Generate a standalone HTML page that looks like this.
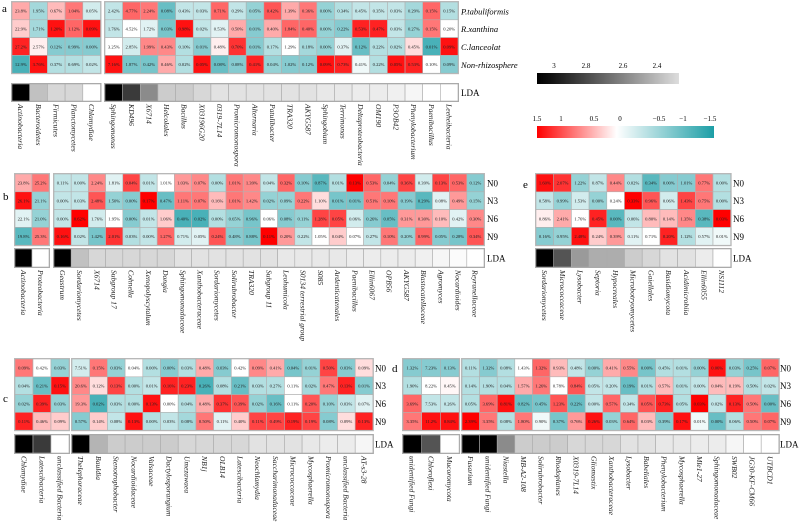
<!DOCTYPE html>
<html><head><meta charset="utf-8"><style>
body{margin:0;background:#fff;}
svg{display:block;font-family:"Liberation Serif",serif;}
</style></head><body>
<svg id="fig" width="800" height="528" viewBox="0 0 800 528"></svg>
<script>
const rowsA=["P.tabuliformis","R.xanthina","C.lanceolat","Non-rhizosphere"];
const rowsN=["N0","N3","N6","N9"];
const colsA1=["Actinobacteria","Bacteroidetes","Firmicutes","Planctomycetes","Chlamydiae"];
const colsA2=["Sphingomonas","KD496","X6714","Helcolales","Bacillus","X03196G20","0319-7L14","Promicromonospora","Alternaria","Patulibacter","TRA320","AKYG587","Sphingobium","Terrimonas","Deltaproteobacteria","OM190","P3OB42","Phenylobacterium","Paenibacillus","Leeheibacteria"];
const zA=[[0.5,-0.6,0.4,0.8,-0.3,-0.4,0.9,0.8,-1.0,-0.4,-0.4,0.9,-0.4,-0.7,1.0,0.5,0.8,-0.7,-0.5,-0.4,-0.4,-0.4,-0.6,0.9,-0.5],
[0.3,-0.6,1.4,0.9,1.4,-0.4,0,-0.2,-0.9,1.4,-0.4,-0.2,0.5,-0.8,0.5,0.9,0.9,-0.7,-0.8,1.3,1.3,-0.4,-0.7,0.8,0],
[1.3,0.1,-0.8,-0.8,-0.8,0,-0.3,0.7,0.7,-0.5,-0.8,0.1,1.2,-0.8,-0.5,0,-0.6,-0.7,-0.2,-1.0,-0.5,-0.5,0.2,-1.2,1.4],
[-1.2,1.4,-0.5,-0.5,-0.4,1.4,-0.9,-0.9,0.5,-0.5,1.4,-1.0,-0.8,1.3,-0.7,-0.8,-0.8,1.4,1.3,-0.1,-0.5,1.4,1.3,0,-0.8]];
const tA=[["23.8%","1.95%","0.67%","1.04%","0.05%","2.42%","4.77%","2.24%","0.08%","0.43%","0.03%","0.71%","0.29%","0.05%","0.42%","1.39%","0.36%","0.00%","0.34%","0.45%","0.35%","0.03%","0.29%","0.15%","0.15%"],
["22.9%","1.71%","1.20%","1.12%","0.09%","1.76%","4.52%","1.72%","0.03%","0.98%","0.02%","0.53%","0.50%","0.01%","0.40%","1.84%","0.40%","0.00%","0.22%","0.53%","0.47%","0.03%","0.27%","0.15%","0.20%"],
["27.2%","2.57%","0.12%","0.99%","0.00%","3.25%","2.85%","1.99%","0.43%","0.10%","0.01%","0.48%","0.70%","0.01%","0.17%","1.29%","0.18%","0.00%","0.37%","0.12%","0.22%","0.02%","0.45%","0.01%","0.09%"],
["12.9%","3.76%","0.37%","0.69%","0.02%","7.16%","1.87%","0.42%","0.46%","0.02%","0.05%","0.08%","0.08%","0.41%","0.04%","1.02%","0.12%","0.09%","0.73%","0.41%","0.22%","0.05%","0.53%","0.10%","0.09%"]];
const ldaA=[3.1,2.6,2.5,2.5,2.3,3.1,3.0,2.8,2.55,2.55,2.5,2.45,2.45,2.45,2.45,2.45,2.45,2.42,2.42,2.4,2.4,2.38,2.35,2.3,2.3];

const colsB1=["Actinobacteria","Proteobacteria"];
const colsB2=["Geastrum","Sordariomycetes","X6714","Subgroup 17","Cohnella","Xenopolyscytalum","Dongia","Sphingomonadaceae","Xanthobacteraceae","Sordariomycetes","Solirubrobacter","TRA320","Subgroup 11","Leohumicola","S0134 terrestrial group","S085","Ardenticatenales","Paenibacillus","Ellin6067","OPB56","AKYG587","Blastocatellaceae","Agromyces","Nocardioides","Reyranellaceae"];
const zB=[[0.5,0.8,-0.4,-0.4,0.7,-0.2,1.1,-0.4,0,0.6,0.7,-0.5,0.8,0.7,-0.4,0.9,-0.8,-1.1,-0.5,1.5,0.9,-0.7,1.1,-0.3,1.1,0.9,-0.8],
[1.4,-0.7,-0.4,-0.4,1.0,-0.7,-0.8,1.5,-1.0,0.8,0.8,0.4,0.8,0.7,-0.7,-0.7,0.8,0.2,-0.9,-0.9,0.8,0.8,-0.8,-1.1,-0.2,0.6,-0.7],
[-0.2,-0.7,-0.4,1.5,-0.3,0,-0.8,-0.4,0.3,-1.2,-1.2,-0.5,-0.7,-0.9,0,-0.8,-0.7,1.1,1.1,-0.3,-0.8,-1.0,0.6,0.6,0.4,-0.2,0.7],
[-1.1,0.8,1.4,-0.4,-0.9,1.2,-0.5,-0.4,0.9,-0.3,-0.2,1.0,-0.8,-0.9,1.5,0.6,-0.4,0,0.3,0,-0.4,0.8,-0.7,0.9,-0.8,-0.9,1.0]];
const tB=[["23.8%","25.2%","0.11%","0.00%","2.24%","1.81%","0.04%","0.01%","1.01%","1.03%","0.07%","0.00%","1.01%","1.39%","0.04%","0.32%","0.10%","0.87%","0.01%","0.13%","0.53%","0.04%","0.36%","0.39%","0.13%","0.53%","0.12%"],
["26.1%","21.1%","0.00%","0.03%","2.48%","1.50%","0.00%","0.17%","0.47%","1.11%","0.07%","0.16%","1.01%","1.42%","0.02%","0.09%","0.22%","1.10%","0.01%","0.01%","0.51%","0.10%","0.19%","0.29%","0.08%","0.49%","0.15%"],
["22.1%","21.0%","0.00%","0.62%","1.76%","1.95%","0.00%","0.01%","1.06%","0.40%","0.02%","0.00%","0.65%","0.96%","0.06%","0.08%","0.11%","1.28%","0.05%","0.06%","0.26%","0.05%","0.31%","0.30%","0.10%","0.42%","0.30%"],
["19.8%","25.3%","0.16%","0.02%","1.42%","2.01%","0.03%","0.00%","1.27%","0.71%","0.05%","0.24%","0.48%","0.88%","0.11%","0.20%","0.22%","1.05%","0.04%","0.07%","0.27%","0.10%","0.20%","0.99%","0.05%","0.28%","0.34%"]];
const ldaB=[3.1,2.3,3.1,2.6,2.5,2.5,2.5,2.5,2.5,2.45,2.45,2.45,2.45,2.45,2.45,2.42,2.42,2.42,2.42,2.4,2.4,2.4,2.4,2.38,2.35,2.32,2.3];

const colsE=["Sordariomycetes","Micrococcaceae","Lysobacter","Septoria","Hypocreales","Microbotryomycetes","Gaiellales","Basidiomycota","Acidimicrobiia","Ellin6055","NS1112"];
const zE=[[1.4,1.2,-0.7,-0.4,0.7,-0.5,-1.1,-0.8,-0.8,0.8,-0.5],
[-0.4,-0.7,-0.3,-0.7,0,1.5,1.0,-0.3,1.1,0.8,-0.5],
[0.1,0.5,0,1.3,-1.1,-0.4,0.4,0.4,0.7,-1.1,1.5],
[-0.8,-0.7,1.4,0.3,0.6,-0.2,0,1.3,-0.5,-0.2,-0.1]];
const tE=[["1.60%","2.07%","1.22%","0.87%","0.44%","0.02%","0.34%","0.00%","1.01%","0.77%","0.00%"],
["0.58%","0.99%","1.53%","0.00%","0.24%","0.33%","0.96%","0.06%","1.43%","0.75%","0.00%"],
["0.86%","2.41%","1.76%","0.45%","0.00%","0.06%","0.80%","0.14%","1.35%","0.38%","0.03%"],
["0.16%","0.95%","2.48%","0.24%","0.39%","0.11%","0.71%","0.20%","1.12%","0.57%","0.01%"]];
const ldaE=[3.1,2.95,2.75,2.68,2.68,2.55,2.5,2.45,2.45,2.4,2.3];

const colsC1=["Chlamydiae","Latescibacteria","unclassified Bacteria"];
const colsC2=["Thelephoraceae","Bauldia","Stenotrophobacter","Nocardioidaceae","Valsaceae","Dactylosporangium","Umezawaea","NB1j","OLB14","Latescibacteria","Neochlamydia","Saccharimonadaceae","Micrococcaceae","Mycosphaerella","Promicromonospora","unclassified Bacteria","AT-s3-28"];
const zC=[[0.8,0,-0.7,-0.3,0.8,-0.7,0,-0.5,-0.8,-0.5,0.5,-0.8,0,0.7,0.5,-0.9,-0.7,1.1,-0.8,0.2],
[-0.5,-1.0,1.4,0.7,0.2,1.1,-0.5,-0.4,1.3,1.3,-1.2,-0.5,-1.0,-0.5,-0.5,0,-0.6,0.8,1.3,-0.8],
[-0.7,1.3,-0.7,0.6,-1.2,-0.5,-0.5,1.4,0,-0.5,0.5,1.2,1.0,-0.7,-1.0,0,1.0,-0.7,-0.4,-0.2],
[1.3,0.4,0.3,-0.8,0.3,-0.4,1.4,-0.5,-0.4,-0.6,0.8,-0.2,0.3,1.1,1.1,1.3,1.1,-0.8,0.2,1.3]];
const tC=[["0.09%","0.42%","0.03%","7.51%","0.15%","0.03%","0.04%","0.00%","0.00%","0.03%","0.48%","0.03%","0.42%","0.09%","0.41%","0.04%","0.01%","0.50%","0.03%","0.09%"],
["0.04%","0.21%","0.15%","20.6%","0.12%","0.13%","0.00%","0.01%","0.16%","0.23%","0.26%","0.08%","0.21%","0.03%","0.27%","0.11%","0.02%","0.47%","0.13%","0.01%"],
["0.02%","0.39%","0.03%","19.3%","0.02%","0.03%","0.00%","0.13%","0.00%","0.04%","0.48%","0.37%","0.39%","0.02%","0.16%","0.11%","0.20%","0.10%","0.03%","0.07%"],
["0.11%","0.46%","0.09%","0.57%","0.14%","0.08%","0.13%","0.00%","0.03%","0.08%","0.50%","0.11%","0.40%","0.11%","0.49%","0.19%","0.19%","0.08%","0.09%","0.13%"]];
const ldaC=[3.1,3.0,2.3,3.1,2.65,2.55,2.55,2.55,2.55,2.5,2.5,2.5,2.5,2.45,2.45,2.45,2.42,2.4,2.4,2.35];

const colsD1=["unidentified Fungi","Chloroflexi","Mucoromycota"];
const colsD2=["Fusarium","unidentified Fungi","Niastella","MB-A2-108","Solirubrobacter","Rhodoplanes","X0319-7L14","Gliomastix","Xanthobacteraceae","Lysobacter","Babeliales","Phenylobacterium","Mycosphaerella","Mle1-27","Sphingomonadaceae","SWB02","JG30-KF-CM66","UTBCD1"];
const zD=[[-0.8,-0.8,-0.8,-0.5,-0.8,-0.5,0,0.9,0.4,-0.4,-0.7,0.5,0.7,-0.9,-0.5,-0.5,-0.7,1.4,-0.7,-0.9,0.9],
[-0.5,0,0.05,-0.5,-0.5,-0.5,0.5,0.8,0,1.0,-0.4,-0.4,-1.0,-0.5,0.4,-0.5,-0.4,0.4,0.4,-0.5,-0.4],
[0.9,-0.4,-0.4,-0.5,0.9,1.4,-1.0,-0.9,1.0,-1.0,-0.4,0.9,-0.4,1.0,1.3,-0.5,1.5,-0.4,1.3,0.8,-1.0],
[0.8,1.4,1.4,1.5,0.8,-0.5,0.8,-0.1,-0.9,0.6,1.4,-0.7,0.9,0.4,-0.8,1.4,-0.1,-1.0,-0.5,0.8,0.9]];
const tD=[["1.32%","7.23%","0.13%","0.11%","1.32%","0.08%","1.43%","1.32%","0.93%","0.48%","0.00%","0.41%","0.55%","0.00%","0.45%","0.01%","0.00%","0.06%","0.03%","0.25%","0.07%"],
["1.90%","8.22%","0.45%","0.14%","1.90%","0.04%","1.57%","1.26%","0.78%","0.84%","0.05%","0.20%","0.19%","0.01%","0.57%","0.01%","0.00%","0.04%","0.19%","0.50%","0.02%"],
["3.69%","7.53%","0.26%","0.05%","3.69%","0.81%","0.82%","0.45%","1.23%","0.22%","0.00%","0.57%","0.34%","0.05%","0.73%","0.05%","0.03%","0.02%","0.13%","0.50%","0.00%"],
["3.35%","11.2%","0.84%","2.39%","3.35%","0.08%","1.80%","0.90%","0.37%","0.76%","0.26%","0.03%","0.64%","0.03%","0.39%","0.17%","0.01%","0.00%","0.06%","0.50%","0.07%"]];
const ldaD=[3.1,2.95,2.3,3.1,3.1,2.8,2.55,2.55,2.55,2.5,2.5,2.5,2.45,2.45,2.42,2.42,2.4,2.4,2.35,2.3,2.3];

const NS="http://www.w3.org/2000/svg";
const svg=document.getElementById('fig');
function el(tag,attrs,parent){const e=document.createElementNS(NS,tag);for(const k in attrs)e.setAttribute(k,attrs[k]);(parent||svg).appendChild(e);return e;}
function zColor(z){z=Math.max(-1.5,Math.min(1.5,z));
 if(z>=0){const t=z/1.5;const g=Math.round(255*(1-t));return `rgb(255,${g},${g})`;}
 const t=-z/1.5;const c=[255+(28-255)*t,255+(158-255)*t,255+(166-255)*t].map(Math.round);return `rgb(${c[0]},${c[1]},${c[2]})`;}
function ldaColor(v){let t=(3.05-v)/0.75;t=Math.max(0,Math.min(1,t));const g=Math.round(255*Math.pow(t,0.55));return `rgb(${g},${g},${g})`;}

function panel(p){
 const g=el('g',{});
 
 
 const pl=el('text',{x:p.lx,y:p.ly,'font-size':11},g);pl.textContent=p.id;
 
 
 let ci=0;
 p.groups.forEach(gr=>{
  const n=gr.cols.length;const w=gr.cw;
  el('rect',{x:gr.x0-1,y:p.top-1,width:n*w+2,height:4*p.rh+2,fill:'#bbb'},g);
  el('rect',{x:gr.x0-1,y:p.lda-1,width:n*w+2,height:p.ldah+2,fill:'#aaa'},g);
  for(let j=0;j<n;j++){
   const k=ci+j;const x=gr.x0+j*w;
   for(let r=0;r<4;r++){
    const c=el('rect',{x:x,y:p.top+r*p.rh,width:w,height:p.rh,fill:zColor(p.z[r][k]),stroke:'#b0b0b0','stroke-width':0.6},g);
    
    
    const t=el('text',{x:x+w/2,y:p.top+r*p.rh+p.rh/2+1.8,'font-size':4.6,'text-anchor':'middle',fill:'#222'},g);
    t.textContent=p.t[r][k];
   }
   const lr=el('rect',{x:x,y:p.lda,width:w,height:p.ldah,fill:ldaColor(p.ld[k]),stroke:'#aaa','stroke-width':0.6},g);
   
   
   const lt=el('text',{x:0,y:0,'font-size':7.6,'font-style':'italic',fill:'#222',transform:`translate(${x+w/2-2.7},${p.lda+p.ldah+3}) rotate(90)`},g);
   lt.textContent=gr.cols[j];
   
   
  }
  ci+=n;
 });
 p.rows.forEach((rn,r)=>{const t=el('text',{x:p.rx,y:p.top+r*p.rh+p.rh/2+3.5,'font-size':p.italic?8.5:9,'font-style':p.italic?'italic':'normal'},g);t.textContent=rn;
  
  });
 const l=el('text',{x:p.rx,y:p.lda+p.ldah/2+3.5,'font-size':9},g);l.textContent='LDA';
 
 
}
panel({id:'a',lx:2,ly:12,top:2,rh:17.8,lda:84,ldah:17,rx:461,italic:true,rows:rowsA,z:zA,t:tA,ld:ldaA,
 groups:[{x0:12,cw:17.7,cols:colsA1},{x0:105,cw:17.65,cols:colsA2}]});
panel({id:'b',lx:3,ly:200,top:174,rh:17.8,lda:249,ldah:18,rx:487,rows:rowsN,z:zB,t:tB,ld:ldaB,
 groups:[{x0:15,cw:17,cols:colsB1},{x0:54,cw:17.2,cols:colsB2}]});
panel({id:'e',lx:523,ly:188,top:174,rh:17.8,lda:249,ldah:18,rx:733,rows:rowsN,z:zE,t:tE,ld:ldaE,
 groups:[{x0:536,cw:17.7,cols:colsE}]});
panel({id:'c',lx:3,ly:402,top:359,rh:17.8,lda:435,ldah:18,rx:375,rows:rowsN,z:zC,t:tC,ld:ldaC,
 groups:[{x0:15,cw:18,cols:colsC1},{x0:72,cw:17.7,cols:colsC2}]});
panel({id:'d',lx:392,ly:372,top:359,rh:17.8,lda:435,ldah:18,rx:780,rows:rowsN,z:zD,t:tD,ld:ldaD,
 groups:[{x0:403,cw:18.7,cols:colsD1},{x0:462,cw:17.6,cols:colsD2}]});

// legends
const lg=el('g',{});


const defs=el('defs',{},lg);
const g1=el('linearGradient',{id:'gg',x1:0,x2:1,y1:0,y2:0},defs);
el('stop',{offset:'0','stop-color':'#000'},g1);el('stop',{offset:'0.1','stop-color':'#111'},g1);el('stop',{offset:'1','stop-color':'#ddd'},g1);
const g2=el('linearGradient',{id:'rg',x1:0,x2:1,y1:0,y2:0},defs);
el('stop',{offset:'0','stop-color':'#ff0000'},g2);el('stop',{offset:'0.45','stop-color':'#ffffff'},g2);el('stop',{offset:'1','stop-color':'#1c9ea6'},g2);
const lr1=el('rect',{x:537,y:73,width:142,height:11,fill:'url(#gg)'},lg);


[["3",554],["2.8",586],["2.6",623],["2.4",657]].forEach(([s,x])=>{const t=el('text',{x:x,y:68,'font-size':7,'text-anchor':'middle'},lg);t.textContent=s;});
const lr2=el('rect',{x:537,y:126,width:177,height:12,fill:'url(#rg)'},lg);


[["1.5",537],["1",561],["0.5",594],["0",620],["\u22120.5",659],["\u22121",683],["\u22121.5",710]].forEach(([s,x])=>{const t=el('text',{x:x,y:121,'font-size':7,'text-anchor':'middle'},lg);t.textContent=s;});
</script>
</body></html>
